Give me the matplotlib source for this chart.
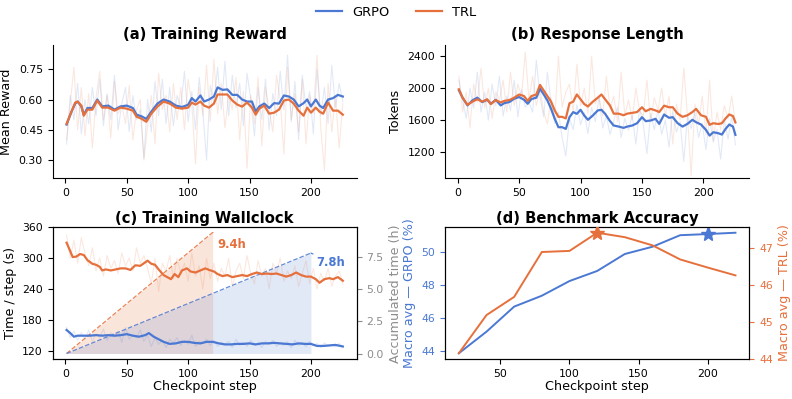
"""
GRPO vs TRL training comparison (4 panels)
"""

import numpy as np
import matplotlib
matplotlib.use("Agg")
import matplotlib.pyplot as plt
from matplotlib.lines import Line2D

# ============================================================
# Style
# ============================================================
C_GRPO = "#4a78d2"
C_TRL = "#e6703c"
C_GRAY = "#8c8c8c"

FS_TITLE = 10.6
FS_LABEL = 9.2
FS_TICK = 7.8
FS_LEGEND = 9.4

plt.rcParams["font.family"] = ["DejaVu Sans"]
plt.rcParams["xtick.labelsize"] = FS_TICK
plt.rcParams["ytick.labelsize"] = FS_TICK

# ============================================================
# Data
# ============================================================

# raw (per-step) curves are sampled every 3 steps
RAW_STEPS = list(range(1, 227, 3))

# (a) reward
REWARD_RAW_GRPO = [0.38, 0.62, 0.50, 0.68, 0.43, 0.60, 0.48, 0.66, 0.52, 0.70,
                   0.47, 0.63, 0.50, 0.72, 0.45, 0.58, 0.66, 0.44, 0.62, 0.50,
                   0.55, 0.31, 0.60, 0.44, 0.69, 0.52, 0.70, 0.48, 0.66, 0.47,
                   0.62, 0.56, 0.74, 0.49, 0.64, 0.45, 0.71, 0.54, 0.30, 0.67,
                   0.58, 0.76, 0.55, 0.79, 0.52, 0.72, 0.56, 0.68, 0.47, 0.73,
                   0.60, 0.42, 0.66, 0.50, 0.70, 0.45, 0.63, 0.52, 0.74, 0.55,
                   0.82, 0.49, 0.69, 0.40, 0.72, 0.56, 0.64, 0.43, 0.75, 0.52,
                   0.66, 0.48, 0.77, 0.56, 0.68, 0.59]
REWARD_RAW_TRL = [0.40, 0.58, 0.76, 0.45, 0.66, 0.42, 0.63, 0.36, 0.61, 0.74,
                  0.50, 0.62, 0.41, 0.69, 0.53, 0.57, 0.48, 0.67, 0.40, 0.55,
                  0.60, 0.30, 0.47, 0.62, 0.38, 0.73, 0.55, 0.62, 0.44, 0.68,
                  0.50, 0.66, 0.45, 0.70, 0.58, 0.28, 0.66, 0.52, 0.77, 0.49,
                  0.80, 0.53, 0.68, 0.46, 0.62, 0.55, 0.71, 0.40, 0.64, 0.26,
                  0.62, 0.48, 0.71, 0.37, 0.66, 0.55, 0.44, 0.72, 0.60, 0.33,
                  0.76, 0.50, 0.63, 0.44, 0.70, 0.38, 0.62, 0.53, 0.82, 0.46,
                  0.25, 0.68, 0.44, 0.62, 0.36, 0.58]

REWARD_STEPS = [1, 5, 8, 10, 13, 15, 18, 22, 26, 30,
                35, 40, 45, 50, 55, 58, 62, 66, 70, 75,
                80, 85, 90, 95, 100, 103, 106, 110, 113, 117,
                121, 124, 128, 132, 136, 140, 144, 148, 152, 155,
                158, 162, 166, 170, 174, 178, 182, 186, 190, 194,
                197, 200, 204, 207, 210, 214, 218, 222, 226]
REWARD_GRPO = [0.476, 0.54, 0.58, 0.59, 0.566, 0.525, 0.558, 0.558, 0.60, 0.566,
               0.57, 0.55, 0.566, 0.57, 0.558, 0.525, 0.517, 0.504, 0.54, 0.58,
               0.60, 0.59, 0.57, 0.563, 0.574, 0.607, 0.59, 0.62, 0.59, 0.60,
               0.615, 0.66, 0.648, 0.65, 0.623, 0.623, 0.60, 0.59, 0.59, 0.54,
               0.566, 0.58, 0.558, 0.582, 0.58, 0.62, 0.615, 0.60, 0.566, 0.582,
               0.60, 0.566, 0.60, 0.57, 0.558, 0.60, 0.607, 0.623, 0.615]
REWARD_TRL = [0.48, 0.54, 0.585, 0.59, 0.57, 0.52, 0.55, 0.55, 0.595, 0.56,
              0.56, 0.545, 0.56, 0.555, 0.545, 0.515, 0.505, 0.49, 0.53, 0.565,
              0.59, 0.58, 0.56, 0.555, 0.56, 0.585, 0.575, 0.59, 0.57, 0.56,
              0.58, 0.625, 0.625, 0.625, 0.595, 0.575, 0.565, 0.585, 0.56, 0.525,
              0.555, 0.57, 0.53, 0.535, 0.55, 0.595, 0.60, 0.58, 0.545, 0.52,
              0.56, 0.535, 0.56, 0.54, 0.53, 0.585, 0.545, 0.545, 0.525]

# (b) response length
LENGTH_RAW_GRPO = [2100, 1850, 1620, 2000, 1750, 2200, 1700, 1950, 1600, 2050,
                   1780, 2150, 1650, 1900, 1720, 2100, 1640, 1980, 1760, 1820,
                   1700, 2350, 1890, 1640, 2200, 1820, 1560, 1700, 1380, 1150,
                   1620, 1480, 1790, 1540, 1690, 1430, 1760, 1580, 1880, 1500,
                   1650, 1420, 1590, 1760, 1380, 1620, 1470, 1660, 1300, 1740,
                   1550, 1180, 1680, 1480, 1730, 1420, 1600, 1260, 1720, 1450,
                   1580, 1080, 1660, 1490, 1700, 1380, 1560, 1230, 1620, 1320,
                   1480, 1110, 1600, 1360, 1650, 1290]
LENGTH_RAW_TRL = [2150, 1700, 1950, 1500, 2050, 1820, 2250, 1750, 2000, 1620,
                  1950, 1850, 2100, 1700, 2200, 1780, 2050, 1900, 2450, 1850,
                  2150, 1780, 2000, 1700, 1550, 1880, 1620, 2400, 1760, 1950,
                  2050, 1700, 2300, 1780, 2000, 1680, 2400, 1800, 1900, 1650,
                  2150, 1740, 1900, 1580, 2200, 1660, 1850, 1600, 2000, 1720,
                  1650, 2100, 1580, 1880, 1720, 2000, 1640, 1900, 1300, 1800,
                  1600, 2250, 1650, 900, 1800, 1540, 1900, 1420, 2100, 1350,
                  1700, 1480, 1780, 1620, 1900, 1560]

LENGTH_STEPS = [1, 4, 8, 12, 16, 20, 24, 27, 31, 35,
                38, 42, 46, 50, 54, 57, 60, 64, 67, 70,
                73, 76, 79, 82, 85, 88, 91, 94, 97, 100,
                103, 106, 110, 114, 117, 120, 124, 127, 131, 135,
                138, 142, 146, 150, 153, 157, 161, 164, 168, 172,
                175, 179, 183, 187, 191, 194, 198, 202, 205, 208,
                212, 215, 218, 221, 224, 226]
LENGTH_GRPO = [1972, 1880, 1783, 1846, 1880, 1825, 1854, 1804, 1854, 1783,
               1812, 1825, 1867, 1888, 1854, 1804, 1863, 1880, 1993, 1921,
               1846, 1741, 1615, 1510, 1510, 1489, 1636, 1699, 1678, 1728,
               1657, 1603, 1657, 1720, 1728, 1678, 1586, 1531, 1518, 1502,
               1518, 1531, 1560, 1636, 1586, 1594, 1615, 1552, 1669, 1628,
               1636, 1560, 1518, 1552, 1603, 1573, 1544, 1477, 1405, 1447,
               1435, 1418, 1489, 1544, 1518, 1414]
LENGTH_TRL = [1985, 1880, 1790, 1830, 1860, 1830, 1860, 1800, 1850, 1820,
              1840, 1850, 1880, 1920, 1900, 1840, 1900, 1920, 2040, 1970,
              1900, 1830, 1720, 1640, 1640, 1620, 1810, 1830, 1920, 1860,
              1800, 1770, 1830, 1880, 1920, 1860, 1780, 1680, 1680, 1660,
              1680, 1690, 1700, 1760, 1710, 1740, 1720, 1700, 1780, 1760,
              1760, 1680, 1640, 1660, 1700, 1740, 1660, 1640, 1540, 1560,
              1550, 1560, 1620, 1670, 1650, 1570]

# (c) wallclock per step (s)
TIME_RAW_GRPO = [165, 145, 158, 140, 155, 142, 160, 138, 152, 145,
                 162, 140, 155, 148, 158, 136, 165, 142, 150, 145,
                 160, 138, 150, 128, 145, 132, 140, 126, 142, 135,
                 145, 130, 140, 132, 150, 128, 138, 134, 142, 130,
                 140, 128, 136, 132, 138, 126, 142, 130, 136, 128,
                 140, 130, 135, 126, 138, 132, 140, 128, 134, 130,
                 137, 125, 140, 130, 136, 127, 138, 129, 134, 126,
                 135, 128, 132, 127, 134, 126]
TIME_RAW_TRL = [345, 300, 335, 290, 340, 310, 285, 320, 275, 300,
                265, 305, 280, 295, 270, 310, 285, 300, 275, 320,
                290, 305, 280, 250, 300, 235, 290, 275, 305, 260,
                300, 270, 290, 255, 310, 265, 285, 240, 300, 260,
                290, 255, 280, 265, 300, 245, 275, 290, 260, 305,
                270, 250, 295, 265, 280, 240, 290, 270, 300, 255,
                275, 260, 285, 245, 270, 295, 250, 280, 240, 270,
                255, 280, 245, 265, 275, 250]

TIME_STEPS_TRL = [1, 3, 6, 9, 12, 15, 18, 22, 25, 28,
                  30, 33, 37, 41, 45, 49, 53, 57, 61, 64,
                  67, 70, 73, 76, 80, 83, 86, 89, 92, 95,
                  99, 102, 106, 110, 114, 117, 121, 124, 128, 132,
                  136, 140, 144, 148, 152, 156, 160, 164, 168, 172,
                  176, 180, 184, 188, 192, 196, 200, 204, 207, 211,
                  215, 218, 222, 226]
TIME_TRL = [330, 319, 302, 303, 308, 306, 296, 289, 287, 283,
            276, 278, 276, 278, 280, 280, 277, 286, 285, 290,
            295, 289, 287, 278, 267, 263, 259, 269, 263, 276,
            280, 274, 272, 276, 280, 277, 274, 269, 265, 267,
            263, 265, 267, 265, 269, 272, 269, 270, 269, 270,
            267, 264, 267, 272, 267, 264, 264, 259, 252, 259,
            261, 259, 263, 256]
TIME_STEPS_GRPO = [1, 4, 7, 10, 15, 20, 25, 30, 35, 40,
                   45, 50, 55, 60, 65, 68, 72, 76, 80, 85,
                   90, 95, 100, 105, 110, 115, 120, 125, 130, 135,
                   140, 145, 150, 155, 160, 165, 170, 175, 180, 185,
                   190, 195, 200, 205, 210, 215, 220, 226]
TIME_GRPO = [160, 154, 147, 149, 149, 149, 150, 149, 150, 149,
             150, 152, 149, 147, 150, 154, 147, 142, 137, 133,
             134, 137, 137, 135, 134, 137, 137, 134, 132, 132,
             133, 133, 134, 132, 134, 134, 135, 134, 133, 132,
             134, 133, 133, 129, 129, 130, 131, 128]

# accumulated wallclock (h) up to the last checkpoint
ACC_STEPS_TRL = [1, 120]
ACC_HOURS_TRL = [0.0, 9.4]
ACC_STEPS_GRPO = [1, 200]
ACC_HOURS_GRPO = [0.0, 7.8]

# (d) benchmark accuracy
BENCH_STEPS = [20, 40, 60, 80, 100, 120, 140, 160, 180, 200, 220]
BENCH_GRPO = [43.84, 45.15, 46.67, 47.33, 48.22, 48.83, 49.86, 50.30, 51.00, 51.07, 51.15]
BENCH_TRL = [44.16, 45.19, 45.68, 46.89, 46.92, 47.41, 47.29, 47.07, 46.69, 46.47, 46.26]
BEST_GRPO_STEP = 200
BEST_TRL_STEP = 120

# ============================================================
# Figure
# ============================================================
W, H = 792, 399
fig = plt.figure(figsize=(W / 100, H / 100), dpi=100)


def px_axes(x0, y0, x1, y1):
    # pixel box (top-left origin) -> figure axes
    return fig.add_axes([x0 / W, 1 - y1 / H, (x1 - x0) / W, (y1 - y0) / H])


ax_a = px_axes(52.7, 45, 356.7, 178.3)
ax_b = px_axes(445, 45, 749.3, 178.3)
ax_c = px_axes(52.7, 227.3, 356.7, 359.3)
ax_d = px_axes(445, 226.7, 749.3, 359.3)

RAW_KW = dict(lw=0.8, alpha=0.16)
SMOOTH_KW = dict(lw=1.6)

# ---------- (a) ----------
ax_a.plot(RAW_STEPS, REWARD_RAW_GRPO, color=C_GRPO, **RAW_KW)
ax_a.plot(RAW_STEPS, REWARD_RAW_TRL, color=C_TRL, **RAW_KW)
ax_a.plot(REWARD_STEPS, REWARD_GRPO, color=C_GRPO, **SMOOTH_KW)
ax_a.plot(REWARD_STEPS, REWARD_TRL, color=C_TRL, **SMOOTH_KW)
ax_a.set_ylim(0.21, 0.87)
ax_a.set_yticks([0.30, 0.45, 0.60, 0.75])
ax_a.set_xticks([0, 50, 100, 150, 200])
ax_a.set_ylabel("Mean Reward", fontsize=FS_LABEL)
ax_a.set_title("(a) Training Reward", fontsize=FS_TITLE, fontweight="bold", pad=4)

# ---------- (b) ----------
ax_b.plot(RAW_STEPS, LENGTH_RAW_GRPO, color=C_GRPO, **RAW_KW)
ax_b.plot(RAW_STEPS, LENGTH_RAW_TRL, color=C_TRL, **RAW_KW)
ax_b.plot(LENGTH_STEPS, LENGTH_GRPO, color=C_GRPO, **SMOOTH_KW)
ax_b.plot(LENGTH_STEPS, LENGTH_TRL, color=C_TRL, **SMOOTH_KW)
ax_b.set_ylim(870, 2540)
ax_b.set_yticks([1200, 1600, 2000, 2400])
ax_b.set_xticks([0, 50, 100, 150, 200])
ax_b.set_ylabel("Tokens", fontsize=FS_LABEL)
ax_b.set_title("(b) Response Length", fontsize=FS_TITLE, fontweight="bold", pad=4)

for ax in (ax_a, ax_b):
    ax.spines["top"].set_visible(False)
    ax.spines["right"].set_visible(False)
    ax.set_xlim(-10.3, 237.3)

# ---------- (c) ----------
ax_c2 = ax_c.twinx()
ax_c2.fill_between(ACC_STEPS_TRL, 0, ACC_HOURS_TRL, color=C_TRL, alpha=0.18, lw=0)
ax_c2.fill_between(ACC_STEPS_GRPO, 0, ACC_HOURS_GRPO, color=C_GRPO, alpha=0.16, lw=0)
ax_c2.plot(ACC_STEPS_TRL, ACC_HOURS_TRL, color=C_TRL, ls="--", lw=0.9, alpha=0.85)
ax_c2.plot(ACC_STEPS_GRPO, ACC_HOURS_GRPO, color=C_GRPO, ls="--", lw=0.9, alpha=0.85)
ax_c2.annotate(f"{ACC_HOURS_TRL[-1]:.1f}h", xy=(ACC_STEPS_TRL[-1], ACC_HOURS_TRL[-1]),
               xytext=(124, 8.5), ha="left", va="center", color=C_TRL,
               fontsize=8.4, fontweight="bold",
               arrowprops=dict(arrowstyle="-", color=C_TRL, lw=0.8, shrinkA=3, shrinkB=0))
ax_c2.annotate(f"{ACC_HOURS_GRPO[-1]:.1f}h", xy=(ACC_STEPS_GRPO[-1], ACC_HOURS_GRPO[-1]),
               xytext=(204, 7.1), ha="left", va="center", color=C_GRPO,
               fontsize=8.4, fontweight="bold",
               arrowprops=dict(arrowstyle="-", color=C_GRPO, lw=0.8, shrinkA=3, shrinkB=0))
ax_c2.set_ylim(-0.45, 9.8)
ax_c2.set_yticks([0.0, 2.5, 5.0, 7.5])
ax_c2.tick_params(axis="y", colors=C_GRAY)
ax_c2.set_ylabel("Accumulated time (h)", fontsize=FS_LABEL, color=C_GRAY)

ax_c.set_zorder(ax_c2.get_zorder() + 1)
ax_c.patch.set_visible(False)
ax_c.plot(RAW_STEPS, TIME_RAW_GRPO, color=C_GRPO, **RAW_KW)
ax_c.plot(RAW_STEPS, TIME_RAW_TRL, color=C_TRL, **RAW_KW)
ax_c.plot(TIME_STEPS_GRPO, TIME_GRPO, color=C_GRPO, **SMOOTH_KW)
ax_c.plot(TIME_STEPS_TRL, TIME_TRL, color=C_TRL, **SMOOTH_KW)
ax_c.set_xlim(-10.3, 237.3)
ax_c.set_ylim(103, 360)
ax_c.set_yticks([120, 180, 240, 300, 360])
ax_c.set_xticks([0, 50, 100, 150, 200])
ax_c.set_xlabel("Checkpoint step", fontsize=FS_LABEL, labelpad=1)
ax_c.set_ylabel("Time / step (s)", fontsize=FS_LABEL)
ax_c.set_title("(c) Training Wallclock", fontsize=FS_TITLE, fontweight="bold", pad=3)

# ---------- (d) ----------
ax_d2 = ax_d.twinx()
ax_d.plot(BENCH_STEPS, BENCH_GRPO, color=C_GRPO, lw=1.4)
ax_d2.plot(BENCH_STEPS, BENCH_TRL, color=C_TRL, lw=1.4)
ax_d.plot(BEST_GRPO_STEP, BENCH_GRPO[BENCH_STEPS.index(BEST_GRPO_STEP)], marker="*",
          ms=11, color=C_GRPO, ls="none", zorder=5)
ax_d2.plot(BEST_TRL_STEP, BENCH_TRL[BENCH_STEPS.index(BEST_TRL_STEP)], marker="*",
           ms=11, color=C_TRL, ls="none", zorder=5)
ax_d.set_yticks([44, 46, 48, 50])
ax_d2.set_yticks([44, 45, 46, 47])
ax_d.set_xticks([50, 100, 150, 200])
ax_d.tick_params(axis="y", colors=C_GRPO)
ax_d2.tick_params(axis="y", colors=C_TRL)
ax_d.set_ylabel("Macro avg — GRPO (%)", fontsize=FS_LABEL, color=C_GRPO)
ax_d2.set_ylabel("Macro avg — TRL (%)", fontsize=FS_LABEL, color=C_TRL)
ax_d.set_xlabel("Checkpoint step", fontsize=FS_LABEL, labelpad=1)
ax_d.set_title("(d) Benchmark Accuracy", fontsize=FS_TITLE, fontweight="bold", pad=3)
for t in ax_d.yaxis.get_major_ticks():
    t.tick1line.set_color("black")
for t in ax_d2.yaxis.get_major_ticks():
    t.tick2line.set_color("black")

# ---------- legend ----------
handles = [Line2D([], [], color=C_GRPO, lw=1.6), Line2D([], [], color=C_TRL, lw=1.6)]
fig.legend(handles, ["GRPO", "TRL"], loc="upper center", bbox_to_anchor=(0.5, 1.015),
           ncol=2, frameon=False, fontsize=FS_LEGEND)

fig.savefig("out.png", dpi=100)
